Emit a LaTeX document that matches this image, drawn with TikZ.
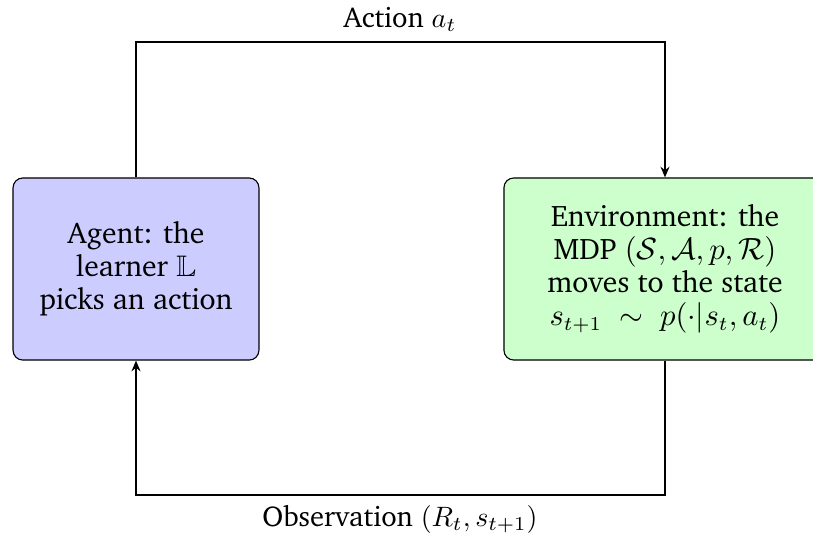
\documentclass[tikz,border=0pt]{standalone}
\usepackage[T1]{fontenc}
\usepackage{charter}
\usepackage{amssymb}
\usetikzlibrary{arrows.meta}
\begin{document}
\begin{tikzpicture}[x=0.357pt,y=-0.357pt,
  txt/.style={font=\fontsize{10.6pt}{11.8pt}\selectfont},
  agentbox/.style={txt, draw, rounded corners=3.5pt, fill=blue!20, align=center,
    minimum width=87.8pt, minimum height=65pt, inner sep=0pt, line width=0.4pt},
  envbox/.style={txt, draw, rounded corners=3.5pt, fill=green!20, align=center,
    minimum width=115pt, minimum height=65pt, inner sep=0pt, line width=0.4pt},
  flow/.style={line width=0.8pt, -{Stealth[length=3.8pt,width=3.2pt]}},
  lbl/.style={font=\fontsize{10.2pt}{11.8pt}\selectfont, anchor=base, inner sep=0pt}]
\useasboundingbox (0,0) rectangle (813,540);
\node[agentbox] (agent) at (136,269) {Agent: the\\ learner $\mathbb{L}$\\ picks an action};
\node[envbox] (env) at (665,269) {Environment: the\\ MDP $(\mathcal{S},\mathcal{A},p,\mathcal{R})$\\ moves to the state\\ $s_{t+1} \;\sim\; p(\cdot|s_t,a_t)$};
\coordinate (tl) at (136,42);
\coordinate (tr) at (665,42);
\coordinate (bl) at (136,495);
\coordinate (br) at (665,495);
\draw[flow] (agent.north) -- (tl) -- (tr) -- (env.north);
\draw[flow] (env.south) -- (br) -- (bl) -- (agent.south);
\node[lbl] (act) at (400,27.3) {Action $a_t$};
\node[lbl] (obs) at (400,526) {Observation $(R_t,s_{t+1})$};
\end{tikzpicture}
\end{document}
